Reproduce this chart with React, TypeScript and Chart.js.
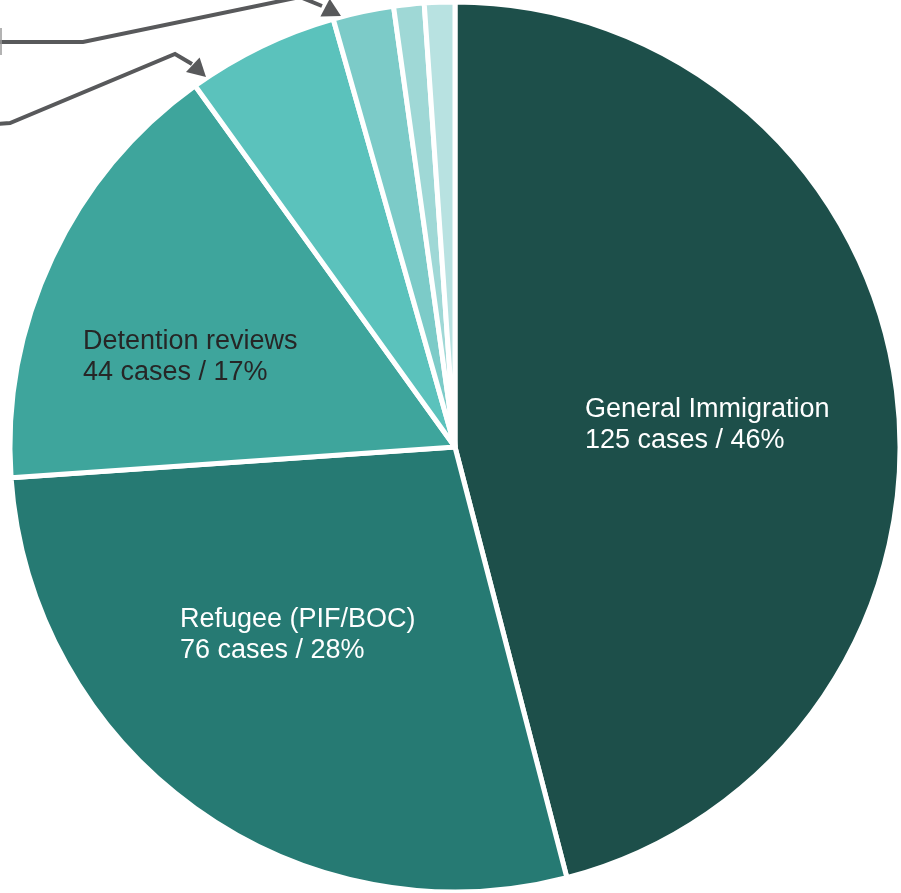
import React, { useEffect, useRef } from "react";
import { Chart, registerables } from "chart.js";

Chart.register(...registerables);

const categories = [
  "General Immigration",
  "Refugee (PIF/BOC)",
  "Detention reviews",
  "Other A",
  "Other B",
  "Other C",
  "Other D",
];
const caseCounts = [125, 76, 44, 15, 6, 3, 3];
const sliceColors = ["#1d4f4a", "#267a73", "#3ea59c", "#5bc2bc", "#7ccbc8", "#9fd8d6", "#b8e2e1"];
const labelLines = [
  ["General Immigration", "125 cases / 46%"],
  ["Refugee (PIF/BOC)", "76 cases / 28%"],
  ["Detention reviews", "44 cases / 17%"],
];
const labelColors = ["#ffffff", "#ffffff", "#262626"];

const FONT = "27px 'Liberation Sans', Arial, sans-serif";

const overlayPlugin = {
  id: "overlay",
  afterDraw(chart: any) {
    const ctx = chart.ctx as CanvasRenderingContext2D;
    ctx.save();
    // Slice labels
    const anchors = [
      [585, 417],
      [180, 627],
      [83, 349],
    ];
    ctx.font = FONT;
    ctx.textAlign = "left";
    ctx.textBaseline = "alphabetic";
    labelLines.forEach((lines, i) => {
      ctx.fillStyle = labelColors[i];
      lines.forEach((t, j) => {
        ctx.fillText(t, anchors[i][0], anchors[i][1] + j * 31);
      });
    });

    // Callout arrows
    const grey = "#58595b";
    const drawArrow = (pts: number[][], head: number[]) => {
      ctx.strokeStyle = grey;
      ctx.lineWidth = 4;
      ctx.lineJoin = "miter";
      ctx.beginPath();
      ctx.moveTo(pts[0][0], pts[0][1]);
      for (let k = 1; k < pts.length; k++) ctx.lineTo(pts[k][0], pts[k][1]);
      ctx.stroke();
      const last = pts[pts.length - 1];
      const dx = head[0] - last[0];
      const dy = head[1] - last[1];
      const len = Math.hypot(dx, dy);
      const ux = dx / len;
      const uy = dy / len;
      const hl = 18;
      const hw = 10;
      const bx = head[0] - ux * hl;
      const by = head[1] - uy * hl;
      ctx.fillStyle = grey;
      ctx.beginPath();
      ctx.moveTo(head[0], head[1]);
      ctx.lineTo(bx - uy * hw, by + ux * hw);
      ctx.lineTo(bx + uy * hw, by - ux * hw);
      ctx.closePath();
      ctx.fill();
    };
    drawArrow(
      [
        [-2, 42],
        [83, 42],
        [300, -3],
        [322, 6],
      ],
      [341, 16]
    );
    drawArrow(
      [
        [-2, 124],
        [10, 123],
        [175, 54],
        [192, 64],
      ],
      [206, 77]
    );
    // small tick at left edge
    ctx.strokeStyle = "#9a9a9a";
    ctx.lineWidth = 1.5;
    ctx.beginPath();
    ctx.moveTo(1, 28);
    ctx.lineTo(1, 55);
    ctx.stroke();
    ctx.restore();
  },
};

export default function App() {
  const ref = useRef<HTMLCanvasElement | null>(null);
  useEffect(() => {
    if (!ref.current) return;
    const chart = new Chart(ref.current, {
      type: "pie",
      data: {
        labels: categories,
        datasets: [
          {
            data: caseCounts,
            backgroundColor: sliceColors,
            borderColor: "#ffffff",
            borderWidth: 5,
          },
        ],
      },
      options: {
        animation: false,
        responsive: false,
        radius: 445,
        layout: { padding: { left: 9, right: 0, top: 1, bottom: 0 } },
        plugins: {
          legend: { display: false },
          tooltip: { enabled: false },
        },
      },
      plugins: [overlayPlugin],
    });
    return () => chart.destroy();
  }, []);
  return (
    <div style={{ position: "fixed", left: 0, top: 0, width: 901, height: 893, background: "#fff" }}>
      <canvas ref={ref} width={901} height={893} style={{ display: "block" }} />
    </div>
  );
}
